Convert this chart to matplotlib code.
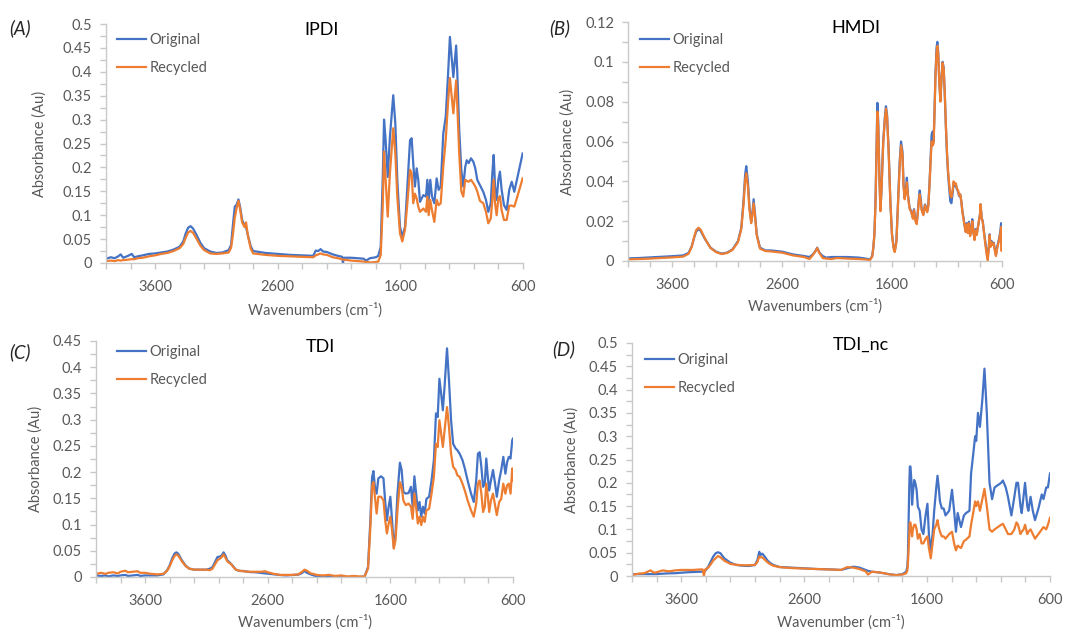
import matplotlib
matplotlib.use("Agg")
import matplotlib.pyplot as plt
from matplotlib.ticker import FixedLocator, FuncFormatter

plt.rcParams['font.family'] = ['Lato', 'DejaVu Sans']

W, H = 1067, 632
BLUE = '#4472C4'
ORANGE = '#ED7D31'
GREY = '#595959'
AXCOL = '#c9c9c9'

# ---------------- data ----------------
# panel A - IPDI
wn_A = [4000, 3960, 3930, 3900, 3880, 3860, 3820, 3790, 3770, 3740, 3700, 3650, 3600, 3550,
        3500, 3450, 3400, 3370, 3350, 3330, 3310, 3290, 3260, 3230, 3200, 3150, 3100, 3050,
        3000, 2980, 2965, 2950, 2935, 2920, 2905, 2890, 2870, 2858, 2845, 2820, 2800, 2700,
        2600, 2500, 2400, 2310, 2290, 2270, 2250, 2230, 2200, 2150, 2110, 2075, 2068, 2060,
        2000, 1950, 1900, 1880, 1860, 1848, 1800, 1780, 1760, 1744, 1733, 1720, 1703, 1685,
        1658, 1641, 1625, 1603, 1584, 1562, 1543, 1521, 1508, 1495, 1481, 1467, 1454, 1440,
        1413, 1391, 1380, 1369, 1356, 1342, 1323, 1304, 1288, 1271, 1250, 1230, 1210, 1196,
        1168, 1145, 1136, 1120, 1103, 1087, 1071, 1059, 1043, 1024, 1005, 989, 973, 951,
        924, 902, 883, 863, 850, 839, 828, 815, 801, 788, 774, 755, 733, 712, 692, 671, 638, 603]
orig_A = [0.009, 0.012, 0.010, 0.014, 0.018, 0.011, 0.015, 0.019, 0.012, 0.014, 0.016, 0.019, 0.020, 0.022,
          0.024, 0.028, 0.034, 0.045, 0.062, 0.074, 0.077, 0.072, 0.058, 0.042, 0.031, 0.024, 0.021, 0.022,
          0.027, 0.038, 0.080, 0.118, 0.122, 0.133, 0.115, 0.090, 0.078, 0.075, 0.060, 0.035, 0.025, 0.021,
          0.019, 0.017, 0.016, 0.015, 0.026, 0.025, 0.029, 0.024, 0.023, 0.018, 0.015, 0.013, 0.000, 0.011,
          0.011, 0.010, 0.009, 0.005, 0.008, 0.010, 0.012, 0.015, 0.034, 0.174, 0.300, 0.257, 0.180, 0.264,
          0.351, 0.292, 0.174, 0.076, 0.055, 0.076, 0.160, 0.257, 0.261, 0.209, 0.160, 0.198, 0.174, 0.128,
          0.142, 0.139, 0.174, 0.132, 0.174, 0.139, 0.125, 0.177, 0.153, 0.160, 0.271, 0.306, 0.400, 0.473,
          0.389, 0.455, 0.400, 0.278, 0.195, 0.160, 0.201, 0.215, 0.209, 0.219, 0.212, 0.198, 0.174, 0.163,
          0.149, 0.132, 0.107, 0.125, 0.188, 0.226, 0.160, 0.132, 0.174, 0.191, 0.153, 0.121, 0.111, 0.153,
          0.170, 0.149, 0.188, 0.229]
rec_A = [0.004, 0.005, 0.004, 0.006, 0.005, 0.006, 0.007, 0.008, 0.008, 0.010, 0.011, 0.014, 0.016, 0.019,
         0.021, 0.025, 0.031, 0.040, 0.053, 0.064, 0.067, 0.063, 0.050, 0.036, 0.027, 0.020, 0.019, 0.020,
         0.022, 0.032, 0.060, 0.095, 0.115, 0.130, 0.110, 0.085, 0.075, 0.085, 0.060, 0.030, 0.020, 0.017,
         0.015, 0.014, 0.013, 0.012, 0.016, 0.018, 0.020, 0.018, 0.017, 0.012, 0.010, 0.008, 0.007, 0.007,
         0.005, 0.004, 0.003, 0.002, 0.002, 0.001, 0.002, 0.003, 0.017, 0.118, 0.233, 0.174, 0.097, 0.188,
         0.282, 0.229, 0.139, 0.062, 0.045, 0.070, 0.125, 0.195, 0.188, 0.125, 0.145, 0.135, 0.118, 0.107,
         0.114, 0.107, 0.139, 0.100, 0.132, 0.110, 0.086, 0.132, 0.121, 0.125, 0.202, 0.258, 0.340, 0.387,
         0.313, 0.382, 0.330, 0.229, 0.150, 0.139, 0.174, 0.172, 0.170, 0.174, 0.167, 0.160, 0.150, 0.130,
         0.125, 0.107, 0.083, 0.093, 0.132, 0.174, 0.125, 0.100, 0.135, 0.140, 0.110, 0.090, 0.090, 0.120,
         0.120, 0.118, 0.146, 0.177]

# panel B - HMDI
wn_B = [4000, 3900, 3800, 3700, 3600, 3500, 3450, 3420, 3400, 3380, 3360, 3340, 3300, 3250,
        3200, 3150, 3100, 3050, 3000, 2970, 2950, 2935, 2925, 2910, 2895, 2880, 2870, 2858,
        2845, 2830, 2800, 2750, 2700, 2600, 2500, 2400, 2350, 2320, 2300, 2280, 2260, 2230,
        2200, 2150, 2100, 2000, 1900, 1850, 1800, 1780, 1770, 1760, 1750, 1740, 1733, 1725,
        1715, 1705, 1695, 1680, 1665, 1655, 1645, 1630, 1615, 1600, 1585, 1575, 1560, 1545,
        1530, 1518, 1505, 1495, 1485, 1475, 1465, 1455, 1440, 1425, 1410, 1400, 1390, 1375,
        1365, 1355, 1348, 1340, 1330, 1315, 1300, 1290, 1280, 1270, 1260, 1250, 1240, 1230,
        1222, 1215, 1205, 1195, 1188, 1180, 1170, 1160, 1150, 1140, 1130, 1120, 1110, 1100,
        1090, 1080, 1070, 1060, 1050, 1040, 1030, 1020, 1010, 1000, 990, 980, 970, 960,
        950, 940, 930, 920, 910, 900, 890, 880, 870, 860, 850, 840, 830, 820,
        810, 800, 795, 785, 775, 765, 755, 745, 735, 730, 720, 712, 705, 695,
        685, 675, 665, 655, 645, 635, 625, 615, 608, 603, 600]
orig_B = [0.0013, 0.0015, 0.0018, 0.0021, 0.0024, 0.0028, 0.0040, 0.0075, 0.0115, 0.0148, 0.0160, 0.0152, 0.0110, 0.0067,
          0.0047, 0.0037, 0.0042, 0.0058, 0.0100, 0.0167, 0.0300, 0.0434, 0.0476, 0.0400, 0.0267, 0.0200, 0.0234, 0.0310,
          0.0234, 0.0134, 0.0067, 0.0053, 0.0053, 0.0047, 0.0033, 0.0025, 0.0020, 0.0033, 0.0047, 0.0067, 0.0042, 0.0025,
          0.0017, 0.0020, 0.0020, 0.0020, 0.0017, 0.0013, 0.0008, 0.0025, 0.0067, 0.0134, 0.0300, 0.0600, 0.0794, 0.0700,
          0.0434, 0.0260, 0.0368, 0.0600, 0.0720, 0.0777, 0.0735, 0.0550, 0.0300, 0.0134, 0.0067, 0.0050, 0.0100, 0.0300,
          0.0500, 0.0600, 0.0550, 0.0384, 0.0317, 0.0350, 0.0418, 0.0334, 0.0267, 0.0250, 0.0217, 0.0260, 0.0210, 0.0190,
          0.0250, 0.0317, 0.0354, 0.0317, 0.0260, 0.0234, 0.0284, 0.0267, 0.0250, 0.0280, 0.0380, 0.0500, 0.0635, 0.0650,
          0.0600, 0.0720, 0.0936, 0.1070, 0.1100, 0.1050, 0.0900, 0.0810, 0.0920, 0.1000, 0.0970, 0.0835, 0.0670, 0.0535,
          0.0434, 0.0368, 0.0300, 0.0290, 0.0334, 0.0390, 0.0376, 0.0384, 0.0360, 0.0350, 0.0326, 0.0334, 0.0300, 0.0250,
          0.0217, 0.0180, 0.0150, 0.0190, 0.0150, 0.0197, 0.0134, 0.0150, 0.0210, 0.0150, 0.0110, 0.0160, 0.0134, 0.0167,
          0.0200, 0.0234, 0.0284, 0.0217, 0.0200, 0.0150, 0.0110, 0.0067, 0.0030, 0.0015, 0.0070, 0.0134, 0.0075, 0.0100,
          0.0084, 0.0092, 0.0058, 0.0030, 0.0067, 0.0092, 0.0117, 0.0150, 0.0190, 0.0100, 0.0180]
rec_B = [0.0008, 0.0010, 0.0012, 0.0015, 0.0018, 0.0022, 0.0036, 0.0072, 0.0118, 0.0155, 0.0167, 0.0158, 0.0112, 0.0065,
         0.0045, 0.0035, 0.0040, 0.0056, 0.0095, 0.0160, 0.0285, 0.0405, 0.0440, 0.0375, 0.0255, 0.0190, 0.0225, 0.0290,
         0.0225, 0.0130, 0.0062, 0.0050, 0.0048, 0.0042, 0.0028, 0.0020, 0.0010, 0.0030, 0.0045, 0.0065, 0.0040, 0.0015,
         0.0012, 0.0010, 0.0015, 0.0012, 0.0010, 0.0008, 0.0005, 0.0022, 0.0065, 0.0130, 0.0290, 0.0570, 0.0750, 0.0670,
         0.0420, 0.0250, 0.0360, 0.0590, 0.0710, 0.0765, 0.0725, 0.0540, 0.0295, 0.0130, 0.0062, 0.0045, 0.0095, 0.0290,
         0.0480, 0.0580, 0.0535, 0.0375, 0.0310, 0.0345, 0.0395, 0.0325, 0.0262, 0.0245, 0.0212, 0.0255, 0.0205, 0.0185,
         0.0245, 0.0305, 0.0335, 0.0300, 0.0255, 0.0230, 0.0280, 0.0260, 0.0245, 0.0275, 0.0370, 0.0480, 0.0600, 0.0580,
         0.0590, 0.0710, 0.0920, 0.1050, 0.1080, 0.1040, 0.0895, 0.0800, 0.0915, 0.0995, 0.0965, 0.0840, 0.0680, 0.0545,
         0.0450, 0.0385, 0.0335, 0.0320, 0.0350, 0.0400, 0.0385, 0.0390, 0.0365, 0.0355, 0.0330, 0.0335, 0.0300, 0.0245,
         0.0210, 0.0175, 0.0145, 0.0185, 0.0140, 0.0190, 0.0125, 0.0145, 0.0200, 0.0145, 0.0105, 0.0155, 0.0130, 0.0165,
         0.0200, 0.0235, 0.0285, 0.0215, 0.0195, 0.0145, 0.0100, 0.0055, 0.0017, 0.0000, 0.0067, 0.0130, 0.0070, 0.0095,
         0.0080, 0.0088, 0.0050, 0.0025, 0.0060, 0.0085, 0.0110, 0.0140, 0.0170, 0.0050, 0.0170]

# panel C - TDI
wn_C = [4000, 3960, 3920, 3900, 3860, 3820, 3800, 3760, 3740, 3700, 3660, 3640, 3600, 3550,
        3500, 3450, 3420, 3400, 3380, 3360, 3345, 3330, 3300, 3270, 3240, 3200, 3150, 3100,
        3070, 3050, 3030, 3010, 2990, 2975, 2960, 2945, 2930, 2915, 2900, 2880, 2860, 2830,
        2800, 2750, 2700, 2650, 2620, 2600, 2550, 2500, 2450, 2400, 2350, 2320, 2300, 2280,
        2250, 2200, 2150, 2100, 2050, 2000, 1950, 1900, 1850, 1810, 1782, 1763, 1749, 1738,
        1726, 1712, 1698, 1676, 1656, 1642, 1628, 1614, 1600, 1586, 1572, 1558, 1542, 1522,
        1508, 1494, 1474, 1452, 1432, 1418, 1404, 1390, 1376, 1362, 1348, 1334, 1320, 1306,
        1284, 1264, 1245, 1228, 1214, 1200, 1186, 1172, 1158, 1138, 1122, 1105, 1088, 1068,
        1054, 1035, 1012, 993, 970, 942, 920, 900, 886, 872, 858, 844, 830, 818,
        805, 794, 780, 763, 746, 732, 713, 696, 679, 662, 648, 634, 620, 606, 600]
orig_C = [0.003, 0.002, 0.003, 0.001, 0.003, 0.002, 0.003, 0.004, 0.002, 0.003, 0.004, 0.002, 0.003, 0.003,
          0.003, 0.005, 0.013, 0.022, 0.035, 0.0445, 0.047, 0.0445, 0.032, 0.022, 0.016, 0.014, 0.014, 0.014,
          0.016, 0.019, 0.0286, 0.038, 0.039, 0.041, 0.047, 0.041, 0.032, 0.0286, 0.0254, 0.020, 0.014, 0.0115,
          0.0115, 0.0095, 0.009, 0.0076, 0.007, 0.0064, 0.005, 0.0038, 0.003, 0.0038, 0.0045, 0.0076, 0.0115, 0.008,
          0.005, 0.001, 0.000, 0.000, 0.000, 0.000, 0.000, 0.000, 0.000, 0.001, 0.019, 0.108, 0.190, 0.202,
          0.172, 0.159, 0.188, 0.192, 0.188, 0.143, 0.108, 0.134, 0.153, 0.108, 0.057, 0.083, 0.159, 0.218,
          0.204, 0.162, 0.159, 0.160, 0.172, 0.134, 0.192, 0.159, 0.127, 0.143, 0.115, 0.134, 0.121, 0.149,
          0.153, 0.184, 0.223, 0.312, 0.305, 0.378, 0.350, 0.318, 0.363, 0.436, 0.375, 0.299, 0.254, 0.245,
          0.242, 0.235, 0.223, 0.207, 0.184, 0.159, 0.143, 0.184, 0.235, 0.238, 0.210, 0.172, 0.178, 0.226,
          0.190, 0.165, 0.184, 0.204, 0.178, 0.153, 0.184, 0.204, 0.229, 0.197, 0.219, 0.229, 0.226, 0.261, 0.264]
rec_C = [0.006, 0.008, 0.006, 0.008, 0.009, 0.007, 0.010, 0.012, 0.009, 0.010, 0.011, 0.008, 0.008, 0.006,
         0.005, 0.006, 0.012, 0.020, 0.031, 0.040, 0.043, 0.041, 0.030, 0.021, 0.016, 0.014, 0.014, 0.014,
         0.013, 0.016, 0.024, 0.032, 0.035, 0.038, 0.043, 0.037, 0.030, 0.027, 0.025, 0.019, 0.014, 0.012,
         0.011, 0.010, 0.010, 0.010, 0.011, 0.009, 0.006, 0.004, 0.004, 0.004, 0.005, 0.010, 0.014, 0.012,
         0.007, 0.004, 0.003, 0.004, 0.002, 0.003, 0.001, 0.002, 0.001, 0.001, 0.016, 0.095, 0.172, 0.181,
         0.153, 0.121, 0.153, 0.153, 0.146, 0.108, 0.083, 0.102, 0.115, 0.089, 0.054, 0.070, 0.127, 0.181,
         0.172, 0.146, 0.137, 0.140, 0.134, 0.111, 0.159, 0.134, 0.102, 0.115, 0.099, 0.115, 0.105, 0.127,
         0.130, 0.159, 0.191, 0.254, 0.248, 0.299, 0.273, 0.248, 0.280, 0.324, 0.286, 0.235, 0.210, 0.204,
         0.194, 0.191, 0.178, 0.165, 0.146, 0.127, 0.115, 0.140, 0.178, 0.184, 0.159, 0.124, 0.134, 0.178,
         0.153, 0.124, 0.146, 0.159, 0.137, 0.118, 0.143, 0.149, 0.178, 0.159, 0.175, 0.178, 0.159, 0.207, 0.184]

# panel D - TDI_nc
wn_D = [4000, 3950, 3900, 3850, 3820, 3800, 3750, 3700, 3650, 3600, 3550, 3500, 3450, 3425,
        3415, 3405, 3380, 3360, 3340, 3320, 3300, 3280, 3250, 3200, 3150, 3100, 3050, 3000,
        2980, 2965, 2955, 2940, 2920, 2900, 2880, 2850, 2800, 2700, 2600, 2500, 2400, 2300,
        2250, 2200, 2150, 2100, 2080, 2050, 2000, 1950, 1900, 1850, 1800, 1770, 1760, 1755,
        1750, 1745, 1740, 1735, 1728, 1722, 1715, 1705, 1695, 1685, 1675, 1660, 1645, 1630,
        1612, 1597, 1585, 1570, 1555, 1542, 1525, 1515, 1505, 1495, 1480, 1465, 1450, 1420,
        1397, 1380, 1365, 1351, 1324, 1300, 1283, 1255, 1242, 1225, 1209, 1200, 1186, 1170,
        1150, 1133, 1114, 1092, 1071, 1051, 1024, 997, 983, 960, 942, 914, 890, 873,
        860, 840, 830, 815, 803, 785, 776, 758, 740, 722, 694, 667, 653, 631, 617, 600]
orig_D = [0.0036, 0.004, 0.004, 0.004, 0.004, 0.004, 0.005, 0.0057, 0.006, 0.007, 0.008, 0.0086, 0.009, 0.0093,
          0.0095, 0.011, 0.020, 0.031, 0.0415, 0.0487, 0.051, 0.0487, 0.038, 0.0286, 0.0236, 0.022, 0.0215, 0.0236,
          0.034, 0.052, 0.045, 0.048, 0.0415, 0.034, 0.0286, 0.0236, 0.0193, 0.018, 0.0165, 0.015, 0.0143, 0.013,
          0.0165, 0.020, 0.018, 0.013, 0.011, 0.0093, 0.008, 0.0057, 0.0036, 0.002, 0.004, 0.009, 0.020, 0.0487,
          0.120, 0.190, 0.235, 0.235, 0.206, 0.153, 0.178, 0.206, 0.199, 0.185, 0.149, 0.140, 0.100, 0.090,
          0.130, 0.155, 0.090, 0.053, 0.090, 0.140, 0.190, 0.215, 0.190, 0.160, 0.145, 0.145, 0.130, 0.140,
          0.185, 0.140, 0.095, 0.135, 0.105, 0.130, 0.135, 0.140, 0.220, 0.260, 0.300, 0.290, 0.350, 0.320,
          0.380, 0.445, 0.350, 0.200, 0.165, 0.190, 0.195, 0.200, 0.205, 0.190, 0.170, 0.130, 0.170, 0.200,
          0.200, 0.150, 0.135, 0.170, 0.200, 0.150, 0.140, 0.170, 0.140, 0.120, 0.145, 0.175, 0.165, 0.190, 0.190, 0.220]
rec_D = [0.002, 0.005, 0.006, 0.012, 0.007, 0.008, 0.012, 0.010, 0.012, 0.013, 0.013, 0.013, 0.014, 0.014,
         0.000, 0.014, 0.018, 0.025, 0.033, 0.038, 0.043, 0.040, 0.033, 0.026, 0.024, 0.023, 0.023, 0.024,
         0.030, 0.042, 0.040, 0.040, 0.035, 0.030, 0.026, 0.022, 0.019, 0.017, 0.016, 0.015, 0.014, 0.013,
         0.019, 0.018, 0.015, 0.010, 0.003, 0.009, 0.008, 0.006, 0.003, 0.002, 0.003, 0.006, 0.012, 0.030,
         0.060, 0.090, 0.115, 0.115, 0.100, 0.085, 0.100, 0.110, 0.110, 0.100, 0.080, 0.090, 0.070, 0.070,
         0.080, 0.085, 0.060, 0.038, 0.070, 0.100, 0.110, 0.120, 0.105, 0.095, 0.085, 0.085, 0.080, 0.090,
         0.095, 0.070, 0.055, 0.065, 0.060, 0.075, 0.078, 0.085, 0.110, 0.135, 0.160, 0.150, 0.160, 0.140,
         0.165, 0.187, 0.150, 0.100, 0.095, 0.100, 0.105, 0.110, 0.112, 0.100, 0.090, 0.090, 0.100, 0.115,
         0.110, 0.090, 0.095, 0.100, 0.110, 0.090, 0.095, 0.100, 0.090, 0.080, 0.090, 0.100, 0.105, 0.100, 0.110, 0.125]

# ---------------- figure ----------------
fig = plt.figure(figsize=(W / 100, H / 100), dpi=100)


def fx(px):
    return px / W


def fy(py):
    return 1 - py / H


def ytick_fmt(v, pos):
    return f'{v:.3f}'.rstrip('0').rstrip('.')


panels = [
    dict(box=(106, 523, 24, 263), wn=wn_A, o=orig_A, r=rec_A, ymax=0.5, ystep=0.05,
         title='IPDI', tpos=(322, 30), letter='(A)', lpos=(9, 28), leg=(117, 38),
         xl='Wavenumbers', xlpos=310, ylx=40),
    dict(box=(628, 1002, 22, 261), wn=wn_B, o=orig_B, r=rec_B, ymax=0.12, ystep=0.02,
         title='HMDI', tpos=(856, 28), letter='(B)', lpos=(549, 28), leg=(640, 38),
         xl='Wavenumbers', xlpos=306, ylx=568),
    dict(box=(96, 513, 341, 577), wn=wn_C, o=orig_C, r=rec_C, ymax=0.45, ystep=0.05,
         title='TDI', tpos=(320, 347), letter='(C)', lpos=(9, 352), leg=(117, 350),
         xl='Wavenumbers', xlpos=622, ylx=36),
    dict(box=(632, 1050, 343, 576), wn=wn_D, o=orig_D, r=rec_D, ymax=0.5, ystep=0.05,
         title='TDI_nc', tpos=(861, 345), letter='(D)', lpos=(552, 349), leg=(645, 358),
         xl='Wavenumber', xlpos=622, ylx=572),
]

for p in panels:
    l, r, t, b = p['box']
    ax = fig.add_axes([fx(l), fy(b), (r - l) / W, (b - t) / H])
    ax.plot(p['wn'], p['o'], color=BLUE, lw=1.6, label='Original')
    ax.plot(p['wn'], p['r'], color=ORANGE, lw=1.6, label='Recycled')
    ax.set_xlim(4000, 600)
    ax.set_ylim(0, p['ymax'])

    for s in ['top', 'right']:
        ax.spines[s].set_visible(False)
    for s in ['left', 'bottom']:
        ax.spines[s].set_color(AXCOL)
        ax.spines[s].set_linewidth(1.0)

    # x ticks every 200, labels every 1000
    ax.xaxis.set_major_locator(FixedLocator([3600, 2600, 1600, 600]))
    ax.xaxis.set_minor_locator(FixedLocator(list(range(4000, 599, -200))))
    n = int(round(p['ymax'] / p['ystep']))
    ax.yaxis.set_major_locator(FixedLocator([i * p['ystep'] for i in range(n + 1)]))
    ax.yaxis.set_minor_locator(FixedLocator([(i + 0.5) * p['ystep'] for i in range(n)]))
    ax.yaxis.set_major_formatter(FuncFormatter(ytick_fmt))
    ax.tick_params(which='both', direction='out', length=4, width=1.0, color=AXCOL,
                   labelcolor=GREY, labelsize=10.5)
    ax.tick_params(axis='x', which='major', pad=8)
    ax.tick_params(axis='y', which='major', pad=6)

    ax.legend(loc='upper left', bbox_to_anchor=(fx(p['leg'][0] - 7), fy(p['leg'][1] - 12)),
              bbox_transform=fig.transFigure, frameon=False, fontsize=10.5,
              handlelength=2.0, handletextpad=0.2, labelspacing=0.95, borderpad=0,
              labelcolor=GREY)

    fig.text(fx(p['tpos'][0]), fy(p['tpos'][1]), p['title'], ha='center', va='center',
             fontsize=13, color='black')
    fig.text(fx(p['lpos'][0]), fy(p['lpos'][1]), p['letter'], ha='left', va='center',
             fontsize=13.5, style='italic', color='#262626')
    fig.text(fx((l + r) / 2), fy(p['xlpos']), p['xl'] + ' (cm\u207b\u00b9)', ha='center',
             va='center', fontsize=10.5, color=GREY)
    fig.text(fx(p['ylx']), fy((t + b) / 2), 'Absorbance (Au)', ha='center', va='center',
             rotation=90, fontsize=10.5, color=GREY)

fig.savefig('out.png', dpi=100)
